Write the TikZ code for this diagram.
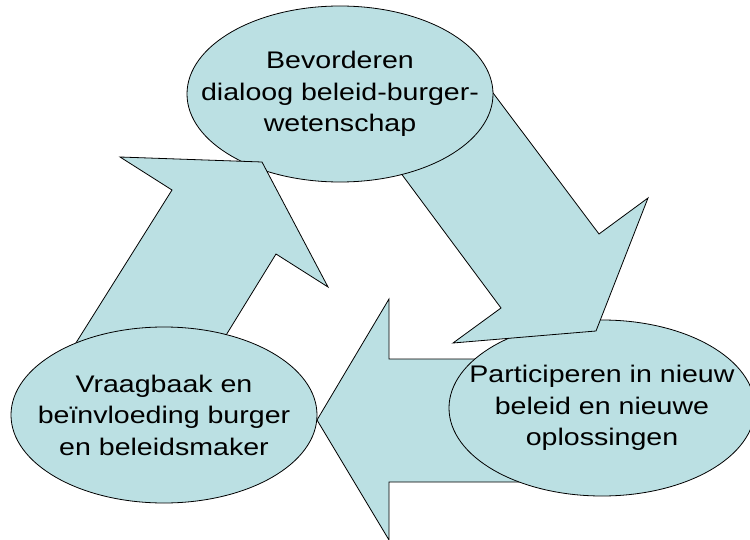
\documentclass[tikz,border=0pt]{standalone}
\usepackage{fontspec}
\setmainfont{Liberation Sans}
\newfontfamily\lblfont[FakeStretch=1.19]{Liberation Sans}
\usetikzlibrary{shapes.geometric}
\definecolor{lichtblauw}{RGB}{187,224,227}
\begin{document}
\begin{tikzpicture}[x=1pt,y=-1pt,line join=miter,
  blob/.style={ellipse,draw=black,line width=0.8pt,fill=lichtblauw,inner sep=0pt,minimum width=306pt,minimum height=176pt},
  tekst/.style={align=center,inner sep=0pt,font=\lblfont\fontsize{24}{31.5}\selectfont},
  pijl/.style={draw=black,line width=0.8pt,fill=lichtblauw}]
\useasboundingbox (0,0) rectangle (750,540);
\clip (0,0) rectangle (750,540);
\draw[pijl] (620,359)--(389,359)--(389,299)--(317,420)--(389,540)--(389,482)--(620,482)--cycle;
\node[blob] (participeren) at (602,408) {};
\node[tekst] (participerentekst) at (participeren) {Participeren in nieuw\\beleid en nieuwe\\oplossingen};
\draw[pijl] (451,37)--(599,234)--(648,198)--(596,331)--(453,343)--(501,308)--(403,176)--(354,110)--cycle;
\node[blob] (bevorderen) at (340,94) {};
\node[tekst] (bevorderentekst) at (bevorderen) {Bevorderen\\dialoog beleid-burger-\\wetenschap};
\draw[pijl] (47,389)--(172,190)--(120,157)--(262,162)--(328,287)--(276,254)--(196,384)--cycle;
\node[blob] (vraagbaak) at (164,415) {};
\node[tekst] (vraagbaaktekst) at (vraagbaak) {Vraagbaak en\\beïnvloeding burger\\en beleidsmaker};
\end{tikzpicture}
\end{document}
